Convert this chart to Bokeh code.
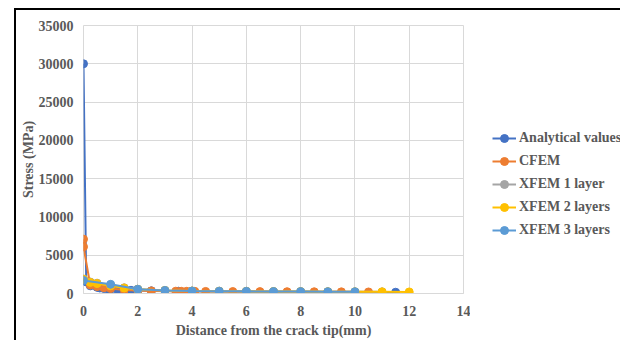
from bokeh.plotting import figure
from bokeh.layouts import row
from bokeh.models import Legend, LegendItem, FixedTicker, ColumnDataSource
from bokeh.embed import file_html
from bokeh.resources import INLINE

# ---- data ----
analytical_x = [0, 0.1, 0.25, 0.5, 0.6, 0.75, 0.9, 1.0, 1.25, 1.5, 1.75, 2.0, 2.5, 3.0, 3.5, 4, 5, 6, 7, 8, 9, 10, 11.5]
analytical_y = [30000, 1500, 1000, 800, 720, 650, 600, 560, 500, 450, 420, 390, 350, 320, 300, 280, 250, 230, 210, 200, 190, 175, 165]

cfem_x = [0, 0, 0.25, 0.5, 0.75, 1.0, 1.5, 2.0, 2.5, 3.4, 3.6, 3.8, 4.1, 4.5, 5.5, 6.5, 7.5, 8.5, 9.5, 10.5]
cfem_y = [7100, 6100, 1100, 900, 750, 650, 450, 380, 340, 300, 290, 285, 280, 270, 255, 245, 235, 225, 215, 200]

xfem1_x = [0, 0.25, 0.5, 1, 1.5, 2, 3, 4, 5, 6, 7, 8, 9, 10, 11]
xfem1_y = [1900, 1500, 1350, 1050, 750, 560, 400, 330, 300, 280, 260, 245, 235, 225, 215]

xfem2_x = [0, 0.25, 0.5, 1, 1.5, 2, 3, 4, 5, 6, 7, 8, 9, 10, 11, 12]
xfem2_y = [1850, 1450, 1300, 1000, 720, 550, 400, 330, 300, 280, 260, 245, 235, 225, 215, 205]

xfem3_x = [0, 1, 2, 3, 4, 5, 6, 7, 8, 9, 10]
xfem3_y = [1700, 1200, 550, 400, 330, 300, 280, 260, 245, 235, 225]

series_names = ["Analytical values", "CFEM", "XFEM 1 layer", "XFEM 2 layers", "XFEM 3 layers"]
series_colors = ["#4472C4", "#ED7D31", "#A5A5A5", "#FFC000", "#5B9BD5"]

x_ticks = [0, 2, 4, 6, 8, 10, 12, 14]
y_ticks = [0, 5000, 10000, 15000, 20000, 25000, 30000, 35000]

FONT = "Liberation Serif"
TXT = "#595959"
FS = "14px"
H = 330

p = figure(width=454, height=H, x_range=(0, 14), y_range=(0, 35000),
           output_backend="svg", toolbar_location=None,
           min_border_left=67, min_border_right=7, min_border_top=15, min_border_bottom=47)
p.background_fill_color = "white"
p.border_fill_color = "white"
p.outline_line_color = "#D9D9D9"

p.xaxis.ticker = FixedTicker(ticks=x_ticks)
p.yaxis.ticker = FixedTicker(ticks=y_ticks)
for ax in (p.xaxis[0], p.yaxis[0]):
    ax.major_tick_line_color = None
    ax.minor_tick_line_color = None
    ax.major_label_text_font = FONT
    ax.major_label_text_font_style = "bold"
    ax.major_label_text_font_size = FS
    ax.major_label_text_color = TXT
    ax.axis_label_text_font = FONT
    ax.axis_label_text_font_style = "bold"
    ax.axis_label_text_font_size = FS
    ax.axis_label_text_color = TXT
p.xaxis.axis_line_color = "#D9D9D9"
p.yaxis.axis_line_color = None
p.xaxis.axis_label = "Distance from the crack tip(mm)"
p.yaxis.axis_label = "Stress (MPa)"
p.xaxis.major_label_standoff = 6
p.yaxis.major_label_standoff = 4
p.xaxis.axis_label_standoff = 4
p.yaxis.axis_label_standoff = 0
p.xgrid.grid_line_color = "#D9D9D9"
p.ygrid.grid_line_color = "#D9D9D9"

data = [(analytical_x, analytical_y), (cfem_x, cfem_y), (xfem1_x, xfem1_y),
        (xfem2_x, xfem2_y), (xfem3_x, xfem3_y)]
for (xs, ys), col in zip(data, series_colors):
    src = ColumnDataSource(dict(x=xs, y=ys))
    p.line("x", "y", source=src, line_color=col, line_width=2)
    p.scatter("x", "y", source=src, size=8, fill_color=col, line_color=col)

# legend panel to the right of the plot area (dummy renderers hold no visible data)
pl = figure(width=150, height=H, x_range=(0, 1), y_range=(0, 1),
            output_backend="svg", toolbar_location=None,
            x_axis_type=None, y_axis_type=None,
            min_border_left=0, min_border_right=0, min_border_top=0, min_border_bottom=0)
pl.outline_line_color = None
pl.xgrid.visible = False
pl.ygrid.visible = False
nan = float("nan")
items = []
for name, col in zip(series_names, series_colors):
    r1 = pl.line([nan], [nan], line_color=col, line_width=2)
    r2 = pl.scatter([nan], [nan], size=8, fill_color=col, line_color=col)
    items.append(LegendItem(label=name, renderers=[r1, r2]))
legend = Legend(items=items, location=(22, 53), margin=0, padding=0,
                border_line_color=None, background_fill_alpha=0,
                label_text_font=FONT, label_text_font_style="bold",
                label_text_font_size=FS, label_text_color=TXT,
                glyph_width=24, glyph_height=20, label_height=20, spacing=3,
                label_standoff=3)
pl.add_layout(legend, "center")

layout = row(p, pl, margin=(8, 0, 0, 14),
             styles={"border-top": "2px solid black", "border-left": "2px solid black"})
open("out.html", "w").write(file_html(layout, INLINE))
